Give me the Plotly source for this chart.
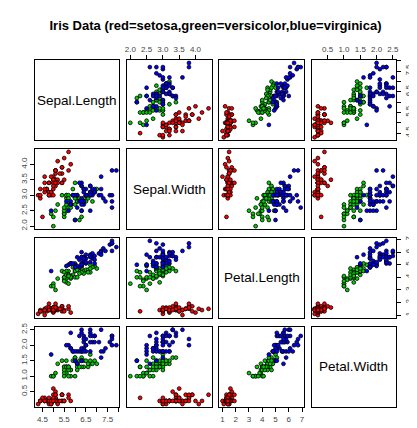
import plotly.graph_objects as go

# ---- Data (Edgar Anderson's iris data) ----
sepal_length = [5.1,4.9,4.7,4.6,5.0,5.4,4.6,5.0,4.4,4.9,5.4,4.8,4.8,4.3,5.8,5.7,5.4,5.1,5.7,5.1,
                5.4,5.1,4.6,5.1,4.8,5.0,5.0,5.2,5.2,4.7,4.8,5.4,5.2,5.5,4.9,5.0,5.5,4.9,4.4,5.1,
                5.0,4.5,4.4,5.0,5.1,4.8,5.1,4.6,5.3,5.0,
                7.0,6.4,6.9,5.5,6.5,5.7,6.3,4.9,6.6,5.2,5.0,5.9,6.0,6.1,5.6,6.7,5.6,5.8,6.2,5.6,
                5.9,6.1,6.3,6.1,6.4,6.6,6.8,6.7,6.0,5.7,5.5,5.5,5.8,6.0,5.4,6.0,6.7,6.3,5.6,5.5,
                5.5,6.1,5.8,5.0,5.6,5.7,5.7,6.2,5.1,5.7,
                6.3,5.8,7.1,6.3,6.5,7.6,4.9,7.3,6.7,7.2,6.5,6.4,6.8,5.7,5.8,6.4,6.5,7.7,7.7,6.0,
                6.9,5.6,7.7,6.3,6.7,7.2,6.2,6.1,6.4,7.2,7.4,7.9,6.4,6.3,6.1,7.7,6.3,6.4,6.0,6.9,
                6.7,6.9,5.8,6.8,6.7,6.7,6.3,6.5,6.2,5.9]
sepal_width = [3.5,3.0,3.2,3.1,3.6,3.9,3.4,3.4,2.9,3.1,3.7,3.4,3.0,3.0,4.0,4.4,3.9,3.5,3.8,3.8,
               3.4,3.7,3.6,3.3,3.4,3.0,3.4,3.5,3.4,3.2,3.1,3.4,4.1,4.2,3.1,3.2,3.5,3.6,3.0,3.4,
               3.5,2.3,3.2,3.5,3.8,3.0,3.8,3.2,3.7,3.3,
               3.2,3.2,3.1,2.3,2.8,2.8,3.3,2.4,2.9,2.7,2.0,3.0,2.2,2.9,2.9,3.1,3.0,2.7,2.2,2.5,
               3.2,2.8,2.5,2.8,2.9,3.0,2.8,3.0,2.9,2.6,2.4,2.4,2.7,2.7,3.0,3.4,3.1,2.3,3.0,2.5,
               2.6,3.0,2.6,2.3,2.7,3.0,2.9,2.9,2.5,2.8,
               3.3,2.7,3.0,2.9,3.0,3.0,2.5,2.9,2.5,3.6,3.2,2.7,3.0,2.5,2.8,3.2,3.0,3.8,2.6,2.2,
               3.2,2.8,2.8,2.7,3.3,3.2,2.8,3.0,2.8,3.0,2.8,3.8,2.8,2.8,2.6,3.0,3.4,3.1,3.0,3.1,
               3.1,3.1,2.7,3.2,3.3,3.0,2.5,3.0,3.4,3.0]
petal_length = [1.4,1.4,1.3,1.5,1.4,1.7,1.4,1.5,1.4,1.5,1.5,1.6,1.4,1.1,1.2,1.5,1.3,1.4,1.7,1.5,
                1.7,1.5,1.0,1.7,1.9,1.6,1.6,1.5,1.4,1.6,1.6,1.5,1.5,1.4,1.5,1.2,1.3,1.4,1.3,1.5,
                1.3,1.3,1.3,1.6,1.9,1.4,1.6,1.4,1.5,1.4,
                4.7,4.5,4.9,4.0,4.6,4.5,4.7,3.3,4.6,3.9,3.5,4.2,4.0,4.7,3.6,4.4,4.5,4.1,4.5,3.9,
                4.8,4.0,4.9,4.7,4.3,4.4,4.8,5.0,4.5,3.5,3.8,3.7,3.9,5.1,4.5,4.5,4.7,4.4,4.1,4.0,
                4.4,4.6,4.0,3.3,4.2,4.2,4.2,4.3,3.0,4.1,
                6.0,5.1,5.9,5.6,5.8,6.6,4.5,6.3,5.8,6.1,5.1,5.3,5.5,5.0,5.1,5.3,5.5,6.7,6.9,5.0,
                5.7,4.9,6.7,4.9,5.7,6.0,4.8,4.9,5.6,5.8,6.1,6.4,5.6,5.1,5.6,6.1,5.6,5.5,4.8,5.4,
                5.6,5.1,5.1,5.9,5.7,5.2,5.0,5.2,5.4,5.1]
petal_width = [0.2,0.2,0.2,0.2,0.2,0.4,0.3,0.2,0.2,0.1,0.2,0.2,0.1,0.1,0.2,0.4,0.4,0.3,0.3,0.3,
               0.2,0.4,0.2,0.5,0.2,0.2,0.4,0.2,0.2,0.2,0.2,0.4,0.1,0.2,0.2,0.2,0.2,0.1,0.2,0.2,
               0.3,0.3,0.2,0.6,0.4,0.3,0.2,0.2,0.2,0.2,
               1.4,1.5,1.5,1.3,1.5,1.3,1.6,1.0,1.3,1.4,1.0,1.5,1.0,1.4,1.3,1.4,1.5,1.0,1.5,1.1,
               1.8,1.3,1.5,1.2,1.3,1.4,1.4,1.7,1.5,1.0,1.1,1.0,1.2,1.6,1.5,1.6,1.5,1.3,1.3,1.3,
               1.2,1.4,1.2,1.0,1.3,1.2,1.3,1.3,1.1,1.3,
               2.5,1.9,2.1,1.8,2.2,2.1,1.7,1.8,1.8,2.5,2.0,1.9,2.1,2.0,2.4,2.3,1.8,2.2,2.3,1.5,
               2.3,2.0,2.0,1.8,2.1,1.8,1.8,1.8,2.1,1.6,1.9,2.0,2.2,1.5,1.4,2.3,2.4,1.8,1.8,2.1,
               2.4,2.3,1.9,2.3,2.5,2.3,1.9,2.0,2.3,1.8]
species = ["setosa"] * 50 + ["versicolor"] * 50 + ["virginica"] * 50
species_order = ["setosa", "versicolor", "virginica"]
species_colors = {"setosa": "#FF0000", "versicolor": "#00CD00", "virginica": "#0000FF"}

var_names = ["Sepal.Length", "Sepal.Width", "Petal.Length", "Petal.Width"]
var_values = [sepal_length, sepal_width, petal_length, petal_width]
tick_vals = [[4.5, 5.0, 5.5, 6.0, 6.5, 7.0, 7.5, 8.0],
             [2.0, 2.5, 3.0, 3.5, 4.0],
             [1, 2, 3, 4, 5, 6, 7],
             [0.5, 1.0, 1.5, 2.0, 2.5]]
tick_text = [["4.5", "", "5.5", "", "6.5", "", "7.5", ""],
             ["2.0", "2.5", "3.0", "3.5", "4.0"],
             ["1", "2", "3", "4", "5", "6", "7"],
             ["0.5", "1.0", "1.5", "2.0", "2.5"]]
title_text = "Iris Data (red=setosa,green=versicolor,blue=virginica)"

# ---- Layout geometry ----
W, H = 417, 428
ML, MR, MT, MB = 27, 15, 52, 17
PW = W - ML - MR
PH = H - MT - MB
pan_w, gap_w = 87.75, 8.0
pan_h, gap_h = 83.0, 9.0

def rng(v):
    lo, hi = min(v), max(v)
    d = hi - lo
    return [lo - 0.04 * d, hi + 0.04 * d]

fig = go.Figure()
layout = dict(
    width=W, height=H,
    margin=dict(l=ML, r=MR, t=MT, b=MB, pad=0),
    paper_bgcolor="white", plot_bgcolor="white",
    showlegend=False,
    font=dict(family="Liberation Sans, Arial, sans-serif", color="black"),
    title=dict(text="<b>" + title_text + "</b>", x=0.5, xref="paper",
               y=1 - 17.5 / H, yref="container", yanchor="middle", xanchor="center",
               font=dict(size=13, color="black")),
)
annotations = []
tickfont = dict(size=8, color="#444444")

for i in range(4):          # row -> y variable
    for j in range(4):      # col -> x variable
        k = i * 4 + j + 1
        xs = "" if k == 1 else str(k)
        x0 = j * (pan_w + gap_w) / PW
        x1 = (j * (pan_w + gap_w) + pan_w) / PW
        ytop = i * (pan_h + gap_h)
        y1 = 1 - ytop / PH
        y0 = 1 - (ytop + pan_h) / PH

        xa = dict(domain=[x0, x1], anchor="y" + xs, range=rng(var_values[j]),
                  showgrid=False, zeroline=False, showline=True, mirror=True,
                  linecolor="black", linewidth=1, ticks="", showticklabels=False)
        ya = dict(domain=[y0, y1], anchor="x" + xs, range=rng(var_values[i]),
                  showgrid=False, zeroline=False, showline=True, mirror=True,
                  linecolor="black", linewidth=1, ticks="", showticklabels=False)

        # x axis ticks: odd cols at bottom of last row, even cols on top of first row
        if (j % 2 == 0 and i == 3) or (j % 2 == 1 and i == 0):
            xa.update(ticks="outside", ticklen=4, tickwidth=1, tickcolor="black",
                      showticklabels=True, tickvals=tick_vals[j], ticktext=tick_text[j],
                      tickfont=tickfont, side="bottom" if i == 3 else "top")
        # y axis ticks: even rows on left of first col, odd rows on right of last col
        if (i % 2 == 1 and j == 0) or (i % 2 == 0 and j == 3):
            ya.update(ticks="outside", ticklen=4, tickwidth=1, tickcolor="black",
                      showticklabels=True, tickvals=tick_vals[i], ticktext=tick_text[i],
                      tickfont=tickfont, tickangle=-90, side="left" if j == 0 else "right")

        layout["xaxis" + xs] = xa
        layout["yaxis" + xs] = ya

        if i == j:
            # empty trace so the (box-only) diagonal panel is drawn
            fig.add_trace(go.Scatter(x=[None], y=[None], xaxis="x" + xs, yaxis="y" + xs,
                                     mode="markers", hoverinfo="skip"))
            annotations.append(dict(text=var_names[i], x=0.5, y=0.5,
                                    xref="x" + xs + " domain", yref="y" + xs + " domain",
                                    showarrow=False, font=dict(size=13.5, color="black")))
        else:
            for sp in species_order:
                idx = [n for n, s in enumerate(species) if s == sp]
                fig.add_trace(go.Scatter(
                    x=[var_values[j][n] for n in idx],
                    y=[var_values[i][n] for n in idx],
                    xaxis="x" + xs, yaxis="y" + xs, mode="markers",
                    marker=dict(size=3.8, color=species_colors[sp],
                                line=dict(color="black", width=0.8)),
                    hoverinfo="skip"))

layout["annotations"] = annotations
fig.update_layout(**layout)
fig.write_html("out.html")
